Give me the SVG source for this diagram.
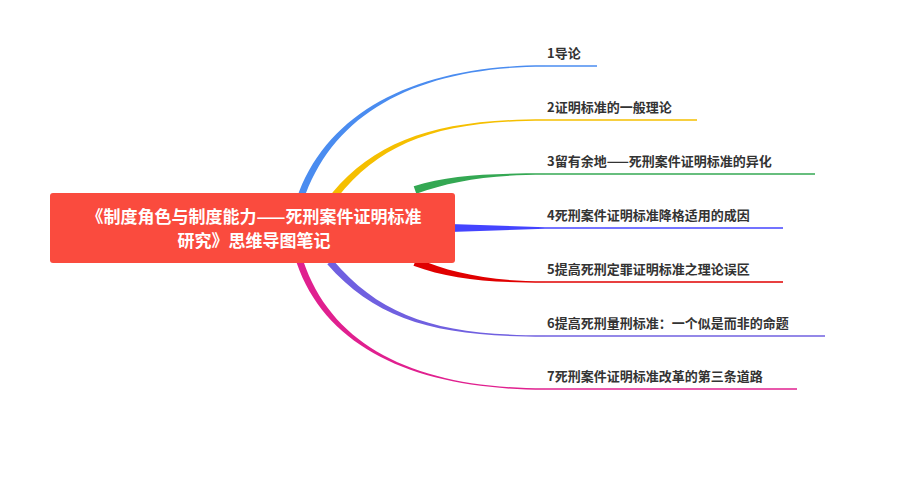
<svg xmlns="http://www.w3.org/2000/svg" width="908" height="477" viewBox="0 0 908 477">
<style>
.lbl{font-family:"Noto Sans CJK SC","Noto Sans",sans-serif;font-size:13px;font-weight:bold;fill:#333}
.ctr{font-family:"Noto Sans CJK SC","Noto Sans",sans-serif;font-size:17px;font-weight:bold;fill:#fff}
.ul{stroke-width:1.5;fill:none}
</style>
<rect width="908" height="477" fill="#fff"/>
<g id="connectors">
<path fill="#4a8cf0" d="M296.7,198.9 C327,109 420,65.3 545,65.3 L545,66.7 C420,66.7 333,111 303.3,201.1 Z"/>
<line class="ul" stroke="#4a8cf0" x1="545" y1="66" x2="597" y2="66"/>
<path fill="#f5bf00" d="M332.3,192.8 C378,138.5 440,119.3 545,119.3 L545,120.7 C440,120.7 382,141.5 337.7,197.2 Z"/>
<line class="ul" stroke="#f5bf00" x1="545" y1="120" x2="697" y2="120"/>
<path fill="#34a853" d="M413.7,186.2 C449,175 490,173.3 545,173.3 L545,174.7 C490,174.7 451,181 416.3,193.8 Z"/>
<line class="ul" stroke="#34a853" x1="545" y1="174" x2="815" y2="174"/>
<path fill="#4444ff" d="M450,224 L545,227.3 L545,228.7 L450,232 Z"/>
<line class="ul" stroke="#4444ff" x1="545" y1="228" x2="783" y2="228"/>
<path fill="#e00000" d="M416.5,258.3 C451,273 490,281.3 545,281.3 L545,282.7 C490,282.7 449,279 413.5,265.7 Z"/>
<line class="ul" stroke="#e00000" x1="545" y1="282" x2="783" y2="282"/>
<path fill="#7060e0" d="M332.7,259.7 C382,318 440,335.3 545,335.3 L545,336.7 C440,336.7 378,322 327.3,264.3 Z"/>
<line class="ul" stroke="#7060e0" x1="545" y1="336" x2="825" y2="336"/>
<path fill="#e0208f" d="M303.3,260.9 C333,349 420,388.3 545,388.3 L545,389.7 C420,389.7 327,351 296.7,263.1 Z"/>
<line class="ul" stroke="#e0208f" x1="545" y1="389" x2="797" y2="389"/>
</g>
<g id="center">
<rect x="50" y="193" width="405" height="70" rx="3" fill="#fa4b3e"/>
<text class="ctr" x="254" y="223" text-anchor="middle">《制度角色与制度能力——死刑案件证明标准</text>
<text class="ctr" x="254" y="247" text-anchor="middle">研究》思维导图笔记</text>
</g>
<g id="n1"><text class="lbl" x="547" y="58">1导论</text></g>
<g id="n2"><text class="lbl" x="547" y="112">2证明标准的一般理论</text></g>
<g id="n3"><text class="lbl" x="547" y="166">3留有余地——死刑案件证明标准的异化</text></g>
<g id="n4"><text class="lbl" x="547" y="220">4死刑案件证明标准降格适用的成因</text></g>
<g id="n5"><text class="lbl" x="547" y="274">5提高死刑定罪证明标准之理论误区</text></g>
<g id="n6"><text class="lbl" x="547" y="328">6提高死刑量刑标准：一个似是而非的命题</text></g>
<g id="n7"><text class="lbl" x="547" y="381">7死刑案件证明标准改革的第三条道路</text></g>
</svg>
